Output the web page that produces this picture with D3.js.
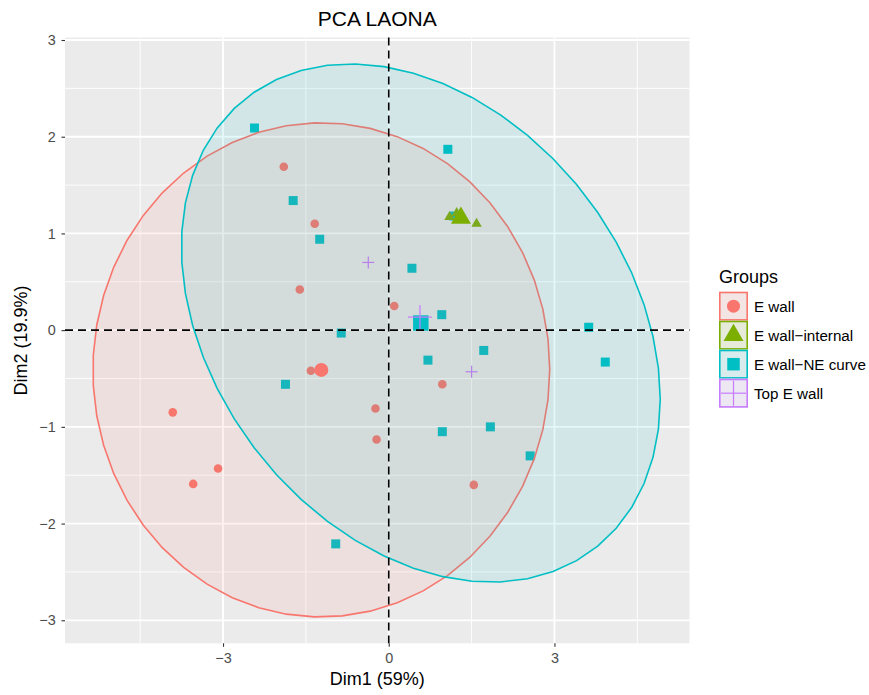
<!DOCTYPE html>
<html>
<head>
<meta charset="utf-8">
<script src="https://cdn.jsdelivr.net/npm/d3@7"></script>
<style>
  body { margin: 0; background: #fff; }
  text { font-family: "Liberation Sans", Arial, sans-serif; }
</style>
</head>
<body>
<svg id="chart" width="869" height="695"></svg>
<script>
// group names and colours (ggplot default hue palette)
const groups = ["E wall", "E wall\u2212internal", "E wall\u2212NE curve", "Top E wall"];
const groupColors = ["#F8766D", "#7CAE00", "#00BFC4", "#C77CFF"];
const groupShapes = ["circle", "triangle", "square", "cross"];

// individual coordinates (Dim1, Dim2)
const eWallX = [-1.90, -1.34, -1.61, 0.10, -1.41, -3.91, -3.09, -3.54, -0.24, -0.22, 0.97, 1.54];
const eWallY = [1.69, 1.10, 0.42, 0.25, -0.42, -0.85, -1.43, -1.59, -0.81, -1.13, -0.56, -1.60];

const eWallNEX = [-2.43, -1.73, -1.25, 0.42, 0.96, -0.86, 1.07, 3.62, 1.72, 0.71, -1.87, 0.97, -0.96, 1.84, 2.56, 3.92, 1.18];
const eWallNEY = [2.09, 1.34, 0.94, 0.64, 0.16, -0.03, 1.87, 0.03, -0.21, -0.31, -0.56, -1.05, -2.21, -1.00, -1.30, -0.33, 1.18];

const eWallIntX = [1.10, 1.23, 1.59];
const eWallIntY = [1.17, 1.21, 1.10];

const topEWallX = [-0.37, 1.50];
const topEWallY = [0.70, -0.43];

// axis ticks
const xTicks = [-3, 0, 3];
const xMinor = [-4.5, -1.5, 1.5, 4.5];
const yTicks = [-3, -2, -1, 0, 1, 2, 3];
const yMinor = [-2.5, -1.5, -0.5, 0.5, 1.5, 2.5];
const xDomain = [-5.861, 5.445];
const yDomain = [-3.238, 3.026];

const ellipseLevel = 0.9;

// order the layers are drawn in (NE curve before internal, so the triangles sit on top)
const drawOrder = [0, 2, 1, 3];
const groupX = [eWallX, eWallIntX, eWallNEX, topEWallX];
const groupY = [eWallY, eWallIntY, eWallNEY, topEWallY];

const panel = { left: 65, top: 37.5, right: 689.5, bottom: 643.3 };

const x = d3.scaleLinear().domain(xDomain).range([panel.left, panel.right]);
const y = d3.scaleLinear().domain(yDomain).range([panel.bottom, panel.top]);

const svg = d3.select("#chart");

// panel background
svg.append("rect")
  .attr("x", panel.left).attr("y", panel.top)
  .attr("width", panel.right - panel.left).attr("height", panel.bottom - panel.top)
  .attr("fill", "#EBEBEB");

const grid = svg.append("g");
grid.selectAll(".xminor").data(xMinor).enter().append("line")
  .attr("x1", d => x(d)).attr("x2", d => x(d))
  .attr("y1", panel.top).attr("y2", panel.bottom)
  .attr("stroke", "#fff").attr("stroke-width", 0.9);
grid.selectAll(".yminor").data(yMinor).enter().append("line")
  .attr("y1", d => y(d)).attr("y2", d => y(d))
  .attr("x1", panel.left).attr("x2", panel.right)
  .attr("stroke", "#fff").attr("stroke-width", 0.9);
grid.selectAll(".xmajor").data(xTicks).enter().append("line")
  .attr("x1", d => x(d)).attr("x2", d => x(d))
  .attr("y1", panel.top).attr("y2", panel.bottom)
  .attr("stroke", "#fff").attr("stroke-width", 1.8);
grid.selectAll(".ymajor").data(yTicks).enter().append("line")
  .attr("y1", d => y(d)).attr("y2", d => y(d))
  .attr("x1", panel.left).attr("x2", panel.right)
  .attr("stroke", "#fff").attr("stroke-width", 1.8);

// symbol drawing helper
function drawShape(g, shape, cx, cy, size, color) {
  if (shape === "cross") {
    g.append("line").attr("x1", cx - size).attr("x2", cx + size).attr("y1", cy).attr("y2", cy)
      .attr("stroke", color).attr("stroke-width", 1.2);
    g.append("line").attr("x1", cx).attr("x2", cx).attr("y1", cy - size).attr("y2", cy + size)
      .attr("stroke", color).attr("stroke-width", 1.2);
    return;
  }
  let type = d3.symbolCircle, area;
  if (shape === "circle") { area = Math.PI * size * size / 4; }
  if (shape === "square") { type = d3.symbolSquare; area = size * size; }
  if (shape === "triangle") { type = d3.symbolTriangle; area = Math.sqrt(3) / 4 * size * size; }
  g.append("path")
    .attr("d", d3.symbol().type(type).size(area)())
    .attr("transform", "translate(" + cx + "," + cy + ")")
    .attr("fill", color);
}

const smallSize = { circle: 8.6, triangle: 10.5, square: 9, cross: 6 };
const bigSize = { circle: 14, triangle: 20, square: 15.5, cross: 12 };

// individual points
const pts = svg.append("g");
drawOrder.forEach(gi => {
  groupX[gi].forEach((v, i) => {
    drawShape(pts, groupShapes[gi], x(v), y(groupY[gi][i]), smallSize[groupShapes[gi]], groupColors[gi]);
  });
});

// normal confidence ellipses (like stat_ellipse type="norm")
function ellipsePoints(xs, ys, level) {
  const n = xs.length;
  const mx = d3.mean(xs), my = d3.mean(ys);
  let sxx = 0, syy = 0, sxy = 0;
  for (let i = 0; i < n; i++) {
    sxx += (xs[i] - mx) ** 2;
    syy += (ys[i] - my) ** 2;
    sxy += (xs[i] - mx) * (ys[i] - my);
  }
  sxx /= n - 1; syy /= n - 1; sxy /= n - 1;
  // F(2, n-1) quantile has a closed form
  const dfd = n - 1;
  const qf = dfd / 2 * (Math.pow(1 - level, -2 / dfd) - 1);
  const radius = Math.sqrt(2 * qf);
  const l11 = Math.sqrt(sxx), l21 = sxy / l11, l22 = Math.sqrt(syy - l21 * l21);
  const out = [];
  for (let k = 0; k <= 51; k++) {
    const t = 2 * Math.PI * k / 51;
    const c = Math.cos(t), s = Math.sin(t);
    out.push([mx + radius * l11 * c, my + radius * (l21 * c + l22 * s)]);
  }
  return out;
}

const ell = svg.append("g");
[0, 2].forEach(gi => {
  const p = ellipsePoints(groupX[gi], groupY[gi], ellipseLevel);
  ell.append("path")
    .attr("d", d3.line().x(d => x(d[0])).y(d => y(d[1]))(p) + "Z")
    .attr("fill", groupColors[gi]).attr("fill-opacity", 0.1)
    .attr("stroke", groupColors[gi]).attr("stroke-width", 1.6);
});

// group mean points
const means = svg.append("g");
drawOrder.forEach(gi => {
  drawShape(means, groupShapes[gi], x(d3.mean(groupX[gi])), y(d3.mean(groupY[gi])),
    bigSize[groupShapes[gi]], groupColors[gi]);
});

// dashed reference lines at 0
svg.append("line")
  .attr("x1", panel.left).attr("x2", panel.right).attr("y1", y(0)).attr("y2", y(0))
  .attr("stroke", "#000").attr("stroke-width", 1.6).attr("stroke-dasharray", "8,5");
svg.append("line")
  .attr("x1", x(0)).attr("x2", x(0)).attr("y1", panel.top).attr("y2", panel.bottom)
  .attr("stroke", "#000").attr("stroke-width", 1.6).attr("stroke-dasharray", "8,5");

// axes
const fmt = d3.format("d");
const xAxis = svg.append("g")
  .attr("transform", "translate(0," + panel.bottom + ")")
  .call(d3.axisBottom(x).tickValues(xTicks).tickFormat(fmt).tickSize(3.5).tickPadding(6));
const yAxis = svg.append("g")
  .attr("transform", "translate(" + panel.left + ",0)")
  .call(d3.axisLeft(y).tickValues(yTicks).tickFormat(fmt).tickSize(3.5).tickPadding(5.8));
[xAxis, yAxis].forEach(a => {
  a.select(".domain").remove();
  a.selectAll(".tick line").attr("stroke", "#333").attr("stroke-width", 1.1);
  a.selectAll(".tick text").attr("fill", "#4D4D4D").style("font-size", "14.4px")
    .style("font-family", "'Liberation Sans', Arial, sans-serif");
});

// titles
svg.append("text")
  .attr("x", (panel.left + panel.right) / 2).attr("y", 26)
  .attr("text-anchor", "middle").style("font-size", "21px").text("PCA LAONA");
svg.append("text")
  .attr("x", (panel.left + panel.right) / 2).attr("y", 685)
  .attr("text-anchor", "middle").style("font-size", "18px").text("Dim1 (59%)");
svg.append("text")
  .attr("transform", "translate(27," + (panel.top + panel.bottom) / 2 + ") rotate(-90)")
  .attr("text-anchor", "middle").style("font-size", "18px").text("Dim2 (19.9%)");

// legend
const legend = svg.append("g").attr("transform", "translate(719,283)");
legend.append("text").attr("x", 0).attr("y", 0).style("font-size", "18px").text("Groups");
const keySize = 29;
const legendSize = { circle: 13, triangle: 20, square: 12.5, cross: 12.5 };
groups.forEach((name, i) => {
  const ky = 8.7 + i * keySize;
  const key = legend.append("g");
  key.append("rect").attr("x", 0).attr("y", ky).attr("width", keySize).attr("height", keySize)
    .attr("fill", "#F2F2F2");
  key.append("rect").attr("x", 0.8).attr("y", ky + 0.8).attr("width", keySize - 1.6).attr("height", keySize - 1.6)
    .attr("fill", groupColors[i]).attr("fill-opacity", 0.1)
    .attr("stroke", groupColors[i]).attr("stroke-width", 1.6);
  drawShape(key, groupShapes[i], keySize / 2, ky + keySize / 2, legendSize[groupShapes[i]], groupColors[i]);
  legend.append("text").attr("x", 35).attr("y", ky + keySize / 2 + 6)
    .style("font-size", "15.2px").attr("fill", "#000").text(name);
});
</script>
</body>
</html>
